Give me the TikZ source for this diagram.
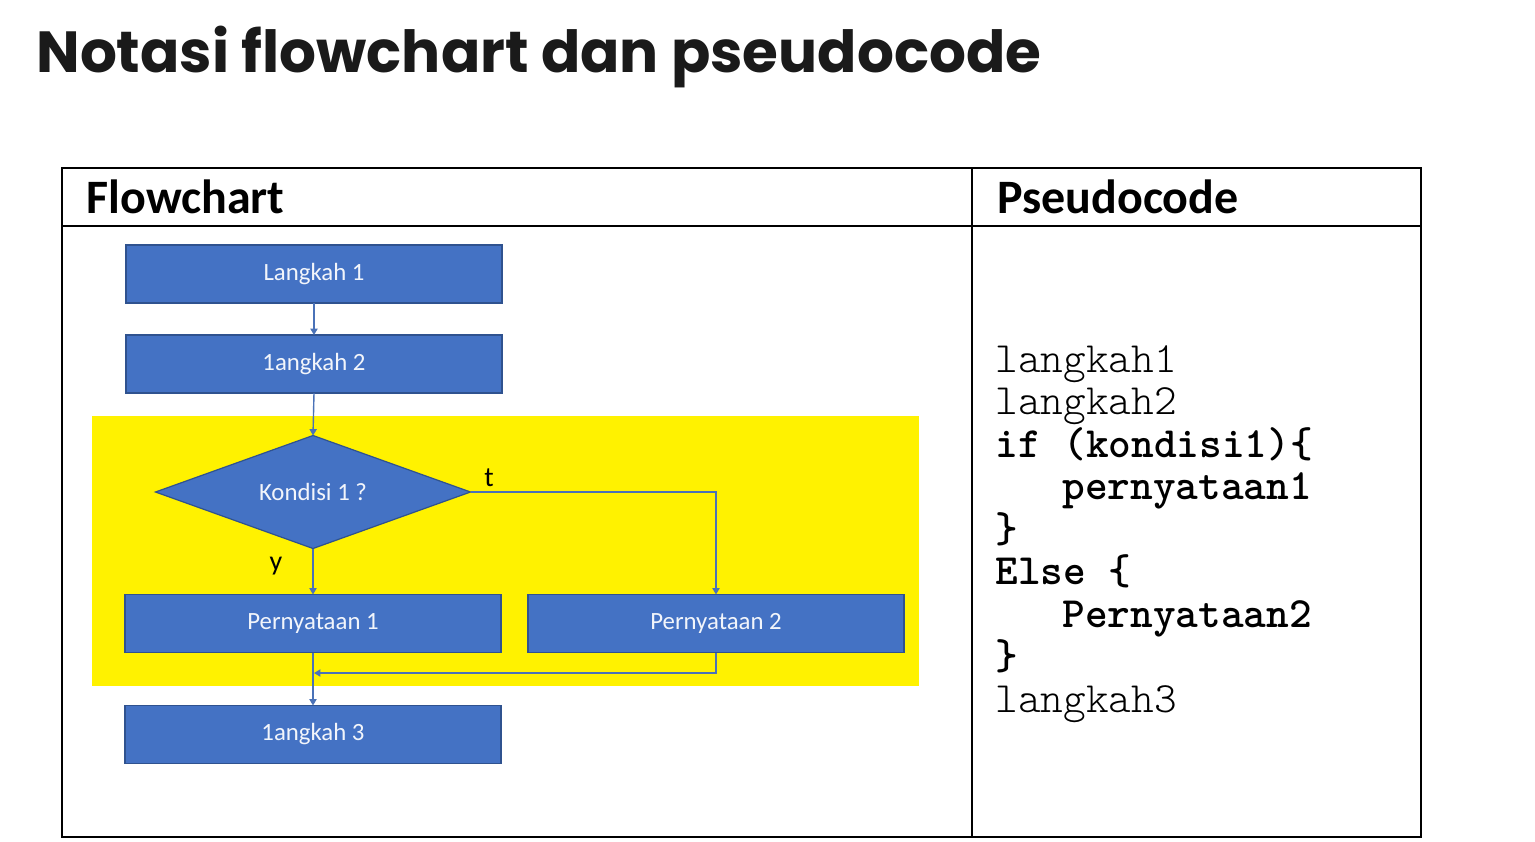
\documentclass[tikz,border=0pt]{standalone}
\usepackage{fontspec}
\setmainfont{Carlito}
\newfontfamily\titlefont{Poppins}
\usetikzlibrary{shapes.geometric,arrows.meta}
\definecolor{boxblue}{HTML}{4472C4}
\definecolor{boxedge}{HTML}{2F528F}
\definecolor{linkblue}{HTML}{4A72B8}
\definecolor{titleblack}{HTML}{1A1A1A}
\definecolor{boxtext}{HTML}{F2F5FB}
\begin{document}
\begin{tikzpicture}[x=0.5pt,y=-0.5pt,
  stepbox/.style={draw=boxedge, fill=boxblue, line width=0.6pt,
    minimum width=188pt, minimum height=29pt, inner sep=0pt, outer sep=0pt,
    text=boxtext, font=\fontsize{12.4}{14}\selectfont},
  decision/.style={shape=diamond, aspect=2.8, draw=boxedge, fill=boxblue, line width=0.6pt,
    minimum width=157.5pt, minimum height=56.5pt, inner sep=0pt, outer sep=0pt,
    text=boxtext, font=\fontsize{12.4}{14}\selectfont},
  link/.style={draw=linkblue, line width=0.7pt, -{Triangle[length=3.2pt,width=3.6pt]}},
  branch/.style={font=\fontsize{14}{16}\selectfont, text=black, inner sep=0pt},
  header/.style={anchor=base west, inner sep=0pt, font=\bfseries\fontsize{24}{28}\selectfont},
  codeline/.style={anchor=base west, inner sep=0pt, font=\ttfamily\fontseries{l}\selectfont\fontsize{21.6}{24}\selectfont},
  codebold/.style={anchor=base west, inner sep=0pt, font=\ttfamily\bfseries\fontsize{21.6}{24}\selectfont},
  frame/.style={draw=black, line width=1.1pt}
]
\useasboundingbox (0,0) rectangle (1535,841);
\fill[white] (0,0) rectangle (1535,841);

% title
\node[anchor=base west, inner sep=0pt, text=titleblack,
      font=\titlefont\bfseries\fontsize{29}{32}\selectfont] (title) at (36,72)
      {Notasi flowchart dan pseudocode};

% table frame
\draw[frame] (62,168) rectangle (1421,837);
\draw[frame] (62,226) -- (1421,226);
\draw[frame] (972,168) -- (972,837);
\node[header] (hflow) at (86,213) {Flowchart};
\node[header] (hpseudo) at (997,213) {Pseudocode};

% highlighted if/else region
\fill[yellow] (92,416) rectangle (919,686);

% flowchart
\node[stepbox] (l1) at (314,274) {Langkah 1};
\node[stepbox] (l2) at (314,364) {1angkah 2};
\node[decision] (k1) at (313,492) {Kondisi 1 ?};
\node[stepbox] (s1) at (313,623.5) {Pernyataan 1};
\node[stepbox] (s2) at (716,623.5) {Pernyataan 2};
\node[stepbox] (l3) at (313,734.5) {1angkah 3};

\draw[link] (l1.south) -- (l2.north);
\draw[link] (l2.south) -- (k1.north);
\draw[link] (k1.south) -- (s1.north);
\draw[link] (k1.east) -| (s2.north);
\coordinate (merge) at (314,673);
\draw[link] (s2.south) |- (merge);
\draw[link] (s1.south) -- (l3.north);

\node[branch] (tl) at (489,478) {t};
\node[branch] (yl) at (276,566) {y};

% pseudocode
\node[codeline] (c1) at (995,372) {langkah1};
\node[codeline] (c2) at (995,414.5) {langkah2};
\node[codebold] (c3) at (995,457) {if (kondisi1)\{};
\node[codebold] (c4) at (1062,499.5) {pernyataan1};
\node[codebold] (c5) at (995,542) {\}};
\node[codebold] (c6) at (995,584.5) {Else \{};
\node[codebold] (c7) at (1062,627) {Pernyataan2};
\node[codebold] (c8) at (995,669.5) {\}};
\node[codeline] (c9) at (995,712) {langkah3};
\end{tikzpicture}
\end{document}
